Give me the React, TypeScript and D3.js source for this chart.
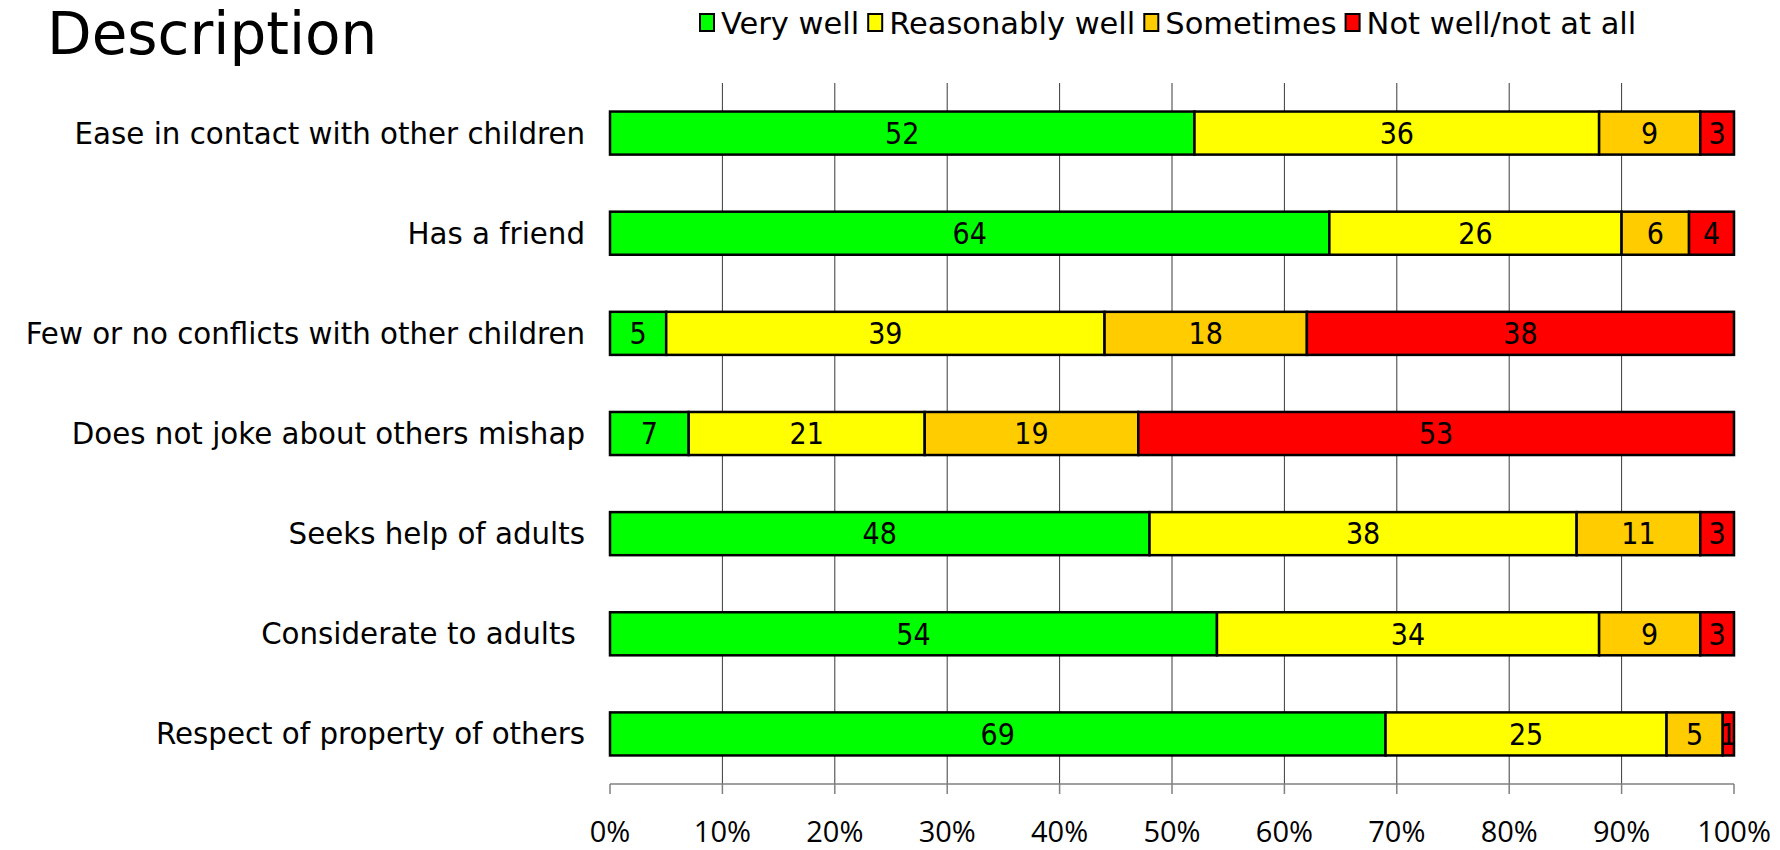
import { useEffect, useRef } from 'react';
import * as d3 from 'd3';

// survey items, top to bottom
const categories = [
  'Ease in contact with other children',
  'Has a friend',
  'Few or no conflicts with other children',
  'Does not joke about others mishap',
  'Seeks help of adults',
  'Considerate to adults ',
  'Respect of property of others',
];

const seriesNames = ['Very well', 'Reasonably well', 'Sometimes', 'Not well/not at all'];
const seriesColors = ['#00FF00', '#FFFF00', '#FFCC00', '#FF0000'];

// percentages per item
const veryWell = [52, 64, 5, 7, 48, 54, 69];
const reasonablyWell = [36, 26, 39, 21, 38, 34, 25];
const sometimes = [9, 6, 18, 19, 11, 9, 5];
const notWell = [3, 4, 38, 53, 3, 3, 1];

const xTicks = [0, 10, 20, 30, 40, 50, 60, 70, 80, 90, 100];

const W = 1780;
const H = 850;
const LABEL_FONT = '"DejaVu Sans", Verdana, sans-serif';

export default function App() {
  const ref = useRef<SVGSVGElement>(null);

  useEffect(() => {
    const svg = d3.select(ref.current);
    svg.selectAll('*').remove();

    const rows = categories.map((name, i) => ({
      name,
      [seriesNames[0]]: veryWell[i],
      [seriesNames[1]]: reasonablyWell[i],
      [seriesNames[2]]: sometimes[i],
      [seriesNames[3]]: notWell[i],
    }));

    const x = d3.scaleLinear().domain([0, 100]).range([610, 1734]);
    const y = d3
      .scaleBand<string>()
      .domain(categories)
      .range([83, 784])
      .paddingInner(0.57)
      .paddingOuter(0.285);
    const color = d3.scaleOrdinal<string, string>().domain(seriesNames).range(seriesColors);

    const stacked = d3.stack<any>().keys(seriesNames)(rows);

    // title
    svg
      .append('text')
      .attr('x', 47)
      .attr('y', 54)
      .attr('font-family', LABEL_FONT)
      .attr('font-size', 58)
      .attr('fill', '#000')
      .text('Description');

    // vertical grid
    svg
      .append('g')
      .selectAll('line')
      .data(xTicks.filter((t) => t > 0 && t < 100))
      .join('line')
      .attr('x1', (d) => x(d))
      .attr('x2', (d) => x(d))
      .attr('y1', 83)
      .attr('y2', 784)
      .attr('stroke', '#3a3a3a')
      .attr('stroke-width', 1);

    // x axis
    const axis = svg.append('g').attr('transform', 'translate(0,784)');
    axis
      .append('line')
      .attr('x1', x(0))
      .attr('x2', x(100))
      .attr('stroke', '#808080')
      .attr('stroke-width', 1.5);
    axis
      .selectAll('line.tick')
      .data(xTicks)
      .join('line')
      .attr('class', 'tick')
      .attr('x1', (d) => x(d))
      .attr('x2', (d) => x(d))
      .attr('y1', 0)
      .attr('y2', 10)
      .attr('stroke', '#808080')
      .attr('stroke-width', 1.5);
    axis
      .selectAll('text')
      .data(xTicks)
      .join('text')
      .attr('x', (d) => x(d))
      .attr('y', 58)
      .attr('text-anchor', 'middle')
      .attr('font-family', '"Open Sans", sans-serif')
      .attr('font-size', 29)
      .attr('fill', '#000')
      .text((d) => `${d}%`);

    // category labels
    svg
      .append('g')
      .selectAll('text')
      .data(categories)
      .join('text')
      .attr('x', 585)
      .attr('y', (d) => (y(d) ?? 0) + y.bandwidth() / 2)
      .attr('dy', '0.36em')
      .attr('text-anchor', 'end')
      .attr('font-family', LABEL_FONT)
      .attr('font-size', 29.3)
      .style('white-space', 'pre')
      .attr('fill', '#000')
      .text((d) => d);

    // bars
    const layer = svg
      .append('g')
      .selectAll('g')
      .data(stacked)
      .join('g')
      .attr('fill', (d) => color(d.key));

    layer
      .selectAll('rect')
      .data((d) => d)
      .join('rect')
      .attr('x', (d) => x(d[0]))
      .attr('y', (d) => y(d.data.name) ?? 0)
      .attr('width', (d) => x(d[1]) - x(d[0]))
      .attr('height', y.bandwidth())
      .attr('stroke', '#000')
      .attr('stroke-width', 2.5);

    layer
      .selectAll('text')
      .data((d) => d.map((v) => ({ v, val: v[1] - v[0] })))
      .join('text')
      .attr('x', (d) => (x(d.v[0]) + x(d.v[1])) / 2)
      .attr('y', (d) => (y(d.v.data.name) ?? 0) + y.bandwidth() / 2)
      .attr('dy', '0.36em')
      .attr('text-anchor', 'middle')
      .attr('font-family', '"Liberation Sans Narrow", "DejaVu Sans", sans-serif')
      .style('font-stretch', 'condensed')
      .attr('font-size', 30)
      .attr('fill', '#000')
      .text((d) => d.val);

    // legend
    const legend = svg.append('g');
    let lx = 700;
    seriesNames.forEach((name) => {
      legend
        .append('rect')
        .attr('x', lx)
        .attr('y', 14)
        .attr('width', 14)
        .attr('height', 17)
        .attr('fill', color(name))
        .attr('stroke', '#000')
        .attr('stroke-width', 2);
      const t = legend
        .append('text')
        .attr('x', lx + 21)
        .attr('y', 23)
        .attr('dy', '0.36em')
        .attr('font-family', LABEL_FONT)
        .attr('font-size', 30.5)
        .attr('fill', '#000')
        .text(name);
      const w = (t.node() as SVGTextElement).getComputedTextLength();
      lx += 21 + w + 9;
    });
  }, []);

  return (
    <svg
      ref={ref}
      width={W}
      height={H}
      style={{ position: 'absolute', left: 0, top: 0, background: '#fff' }}
    />
  );
}
